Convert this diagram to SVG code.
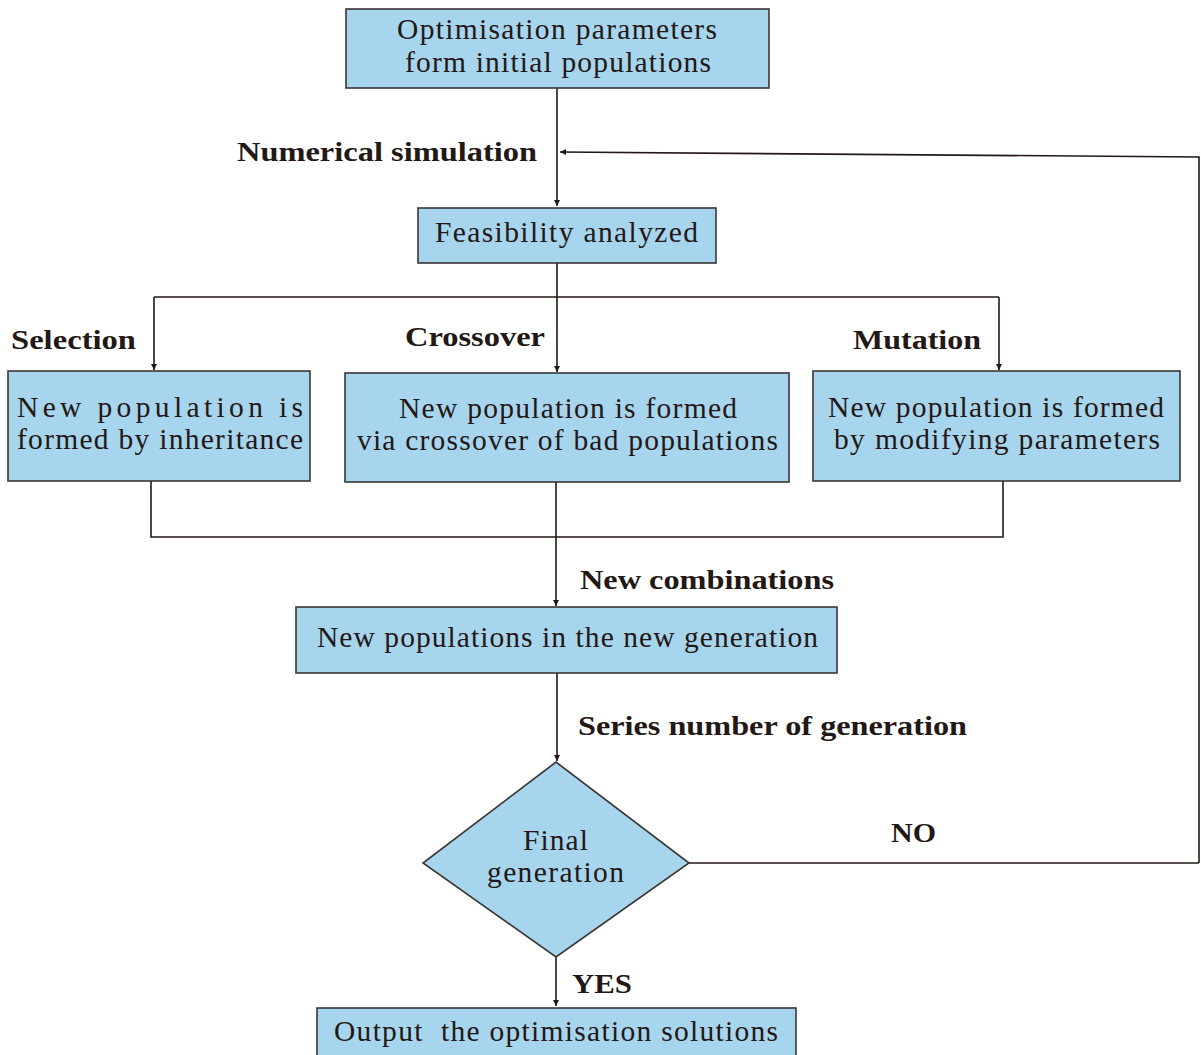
<svg xmlns="http://www.w3.org/2000/svg" width="1201" height="1055" viewBox="0 0 1201 1055">
<style>
.box{fill:#a7d5ed;stroke:#3a3634;stroke-width:1.6}
.t{font-family:"Liberation Serif","Times New Roman",serif;font-size:29.5px;fill:#231815}
.b{font-family:"Liberation Serif","Times New Roman",serif;font-size:28px;font-weight:bold;fill:#231815}
.c{fill:none;stroke:#231815;stroke-width:1.6}
</style>
<defs>
<marker id="ah" viewBox="0 0 10 10" refX="10" refY="5" markerWidth="6" markerHeight="7" markerUnits="userSpaceOnUse" orient="auto">
<path d="M0,0 L10,5 L0,10 z" fill="#231815"/>
</marker>
</defs>
<rect width="1201" height="1055" fill="#ffffff"/>
<g id="connectors">
<path class="c" d="M557,88 V206" marker-end="url(#ah)"/>
<path class="c" d="M1199,863 V157 L560,152" marker-end="url(#ah)"/>
<path class="c" d="M557,263 V297"/>
<path class="c" d="M154,297 H999"/>
<path class="c" d="M154,297 V370" marker-end="url(#ah)"/>
<path class="c" d="M557,297 V372" marker-end="url(#ah)"/>
<path class="c" d="M999,297 V370" marker-end="url(#ah)"/>
<path class="c" d="M151,481 V537 H1003 V481"/>
<path class="c" d="M556,482 V606" marker-end="url(#ah)"/>
<path class="c" d="M557,673 V761" marker-end="url(#ah)"/>
<path class="c" d="M689,863 H1199"/>
<path class="c" d="M556,957 V1006" marker-end="url(#ah)"/>
</g>
<g id="labels">
<text class="b" x="237" y="161" textLength="300" lengthAdjust="spacingAndGlyphs">Numerical simulation</text>
<text class="b" x="11" y="349" textLength="125" lengthAdjust="spacingAndGlyphs">Selection</text>
<text class="b" x="405" y="346" textLength="140" lengthAdjust="spacingAndGlyphs">Crossover</text>
<text class="b" x="853" y="349" textLength="128" lengthAdjust="spacingAndGlyphs">Mutation</text>
<text class="b" x="580" y="589" textLength="254" lengthAdjust="spacingAndGlyphs">New combinations</text>
<text class="b" x="578" y="735" textLength="389" lengthAdjust="spacingAndGlyphs">Series number of generation</text>
<text class="b" x="891" y="842" textLength="45" lengthAdjust="spacingAndGlyphs">NO</text>
<text class="b" x="572" y="993" textLength="60" lengthAdjust="spacingAndGlyphs">YES</text>
</g>
<g id="n1">
<rect class="box" x="346" y="9" width="423" height="79"/>
<text class="t" x="397" y="39" textLength="320" lengthAdjust="spacing">Optimisation parameters</text>
<text class="t" x="405" y="72" textLength="306" lengthAdjust="spacing">form initial populations</text>
</g>
<g id="n2">
<rect class="box" x="418" y="208" width="298" height="55"/>
<text class="t" x="435" y="242" textLength="263" lengthAdjust="spacing">Feasibility analyzed</text>
</g>
<g id="n3">
<rect class="box" x="8" y="371" width="302" height="110"/>
<text class="t" x="17" y="417" textLength="286" lengthAdjust="spacing">New population is</text>
<text class="t" x="17" y="449" textLength="286" lengthAdjust="spacing">formed by inheritance</text>
</g>
<g id="n4">
<rect class="box" x="345" y="373" width="444" height="109"/>
<text class="t" x="399" y="418" textLength="338" lengthAdjust="spacing">New population is formed</text>
<text class="t" x="357" y="450" textLength="421" lengthAdjust="spacing">via crossover of bad populations</text>
</g>
<g id="n5">
<rect class="box" x="813" y="371" width="367" height="110"/>
<text class="t" x="828" y="417" textLength="336" lengthAdjust="spacing">New population is formed</text>
<text class="t" x="834" y="449" textLength="326" lengthAdjust="spacing">by modifying parameters</text>
</g>
<g id="n6">
<rect class="box" x="296" y="607" width="541" height="66"/>
<text class="t" x="317" y="647" textLength="501" lengthAdjust="spacing">New populations in the new generation</text>
</g>
<g id="n7">
<polygon class="box" points="556,762 689,863 556,957 423,863"/>
<text class="t" x="523" y="850" textLength="65" lengthAdjust="spacing">Final</text>
<text class="t" x="487" y="882" textLength="137" lengthAdjust="spacing">generation</text>
</g>
<g id="n8">
<rect class="box" x="317" y="1008" width="479" height="52"/>
<text class="t" x="334" y="1041" textLength="444" lengthAdjust="spacing" xml:space="preserve">Output  the optimisation solutions</text>
</g>
</svg>
